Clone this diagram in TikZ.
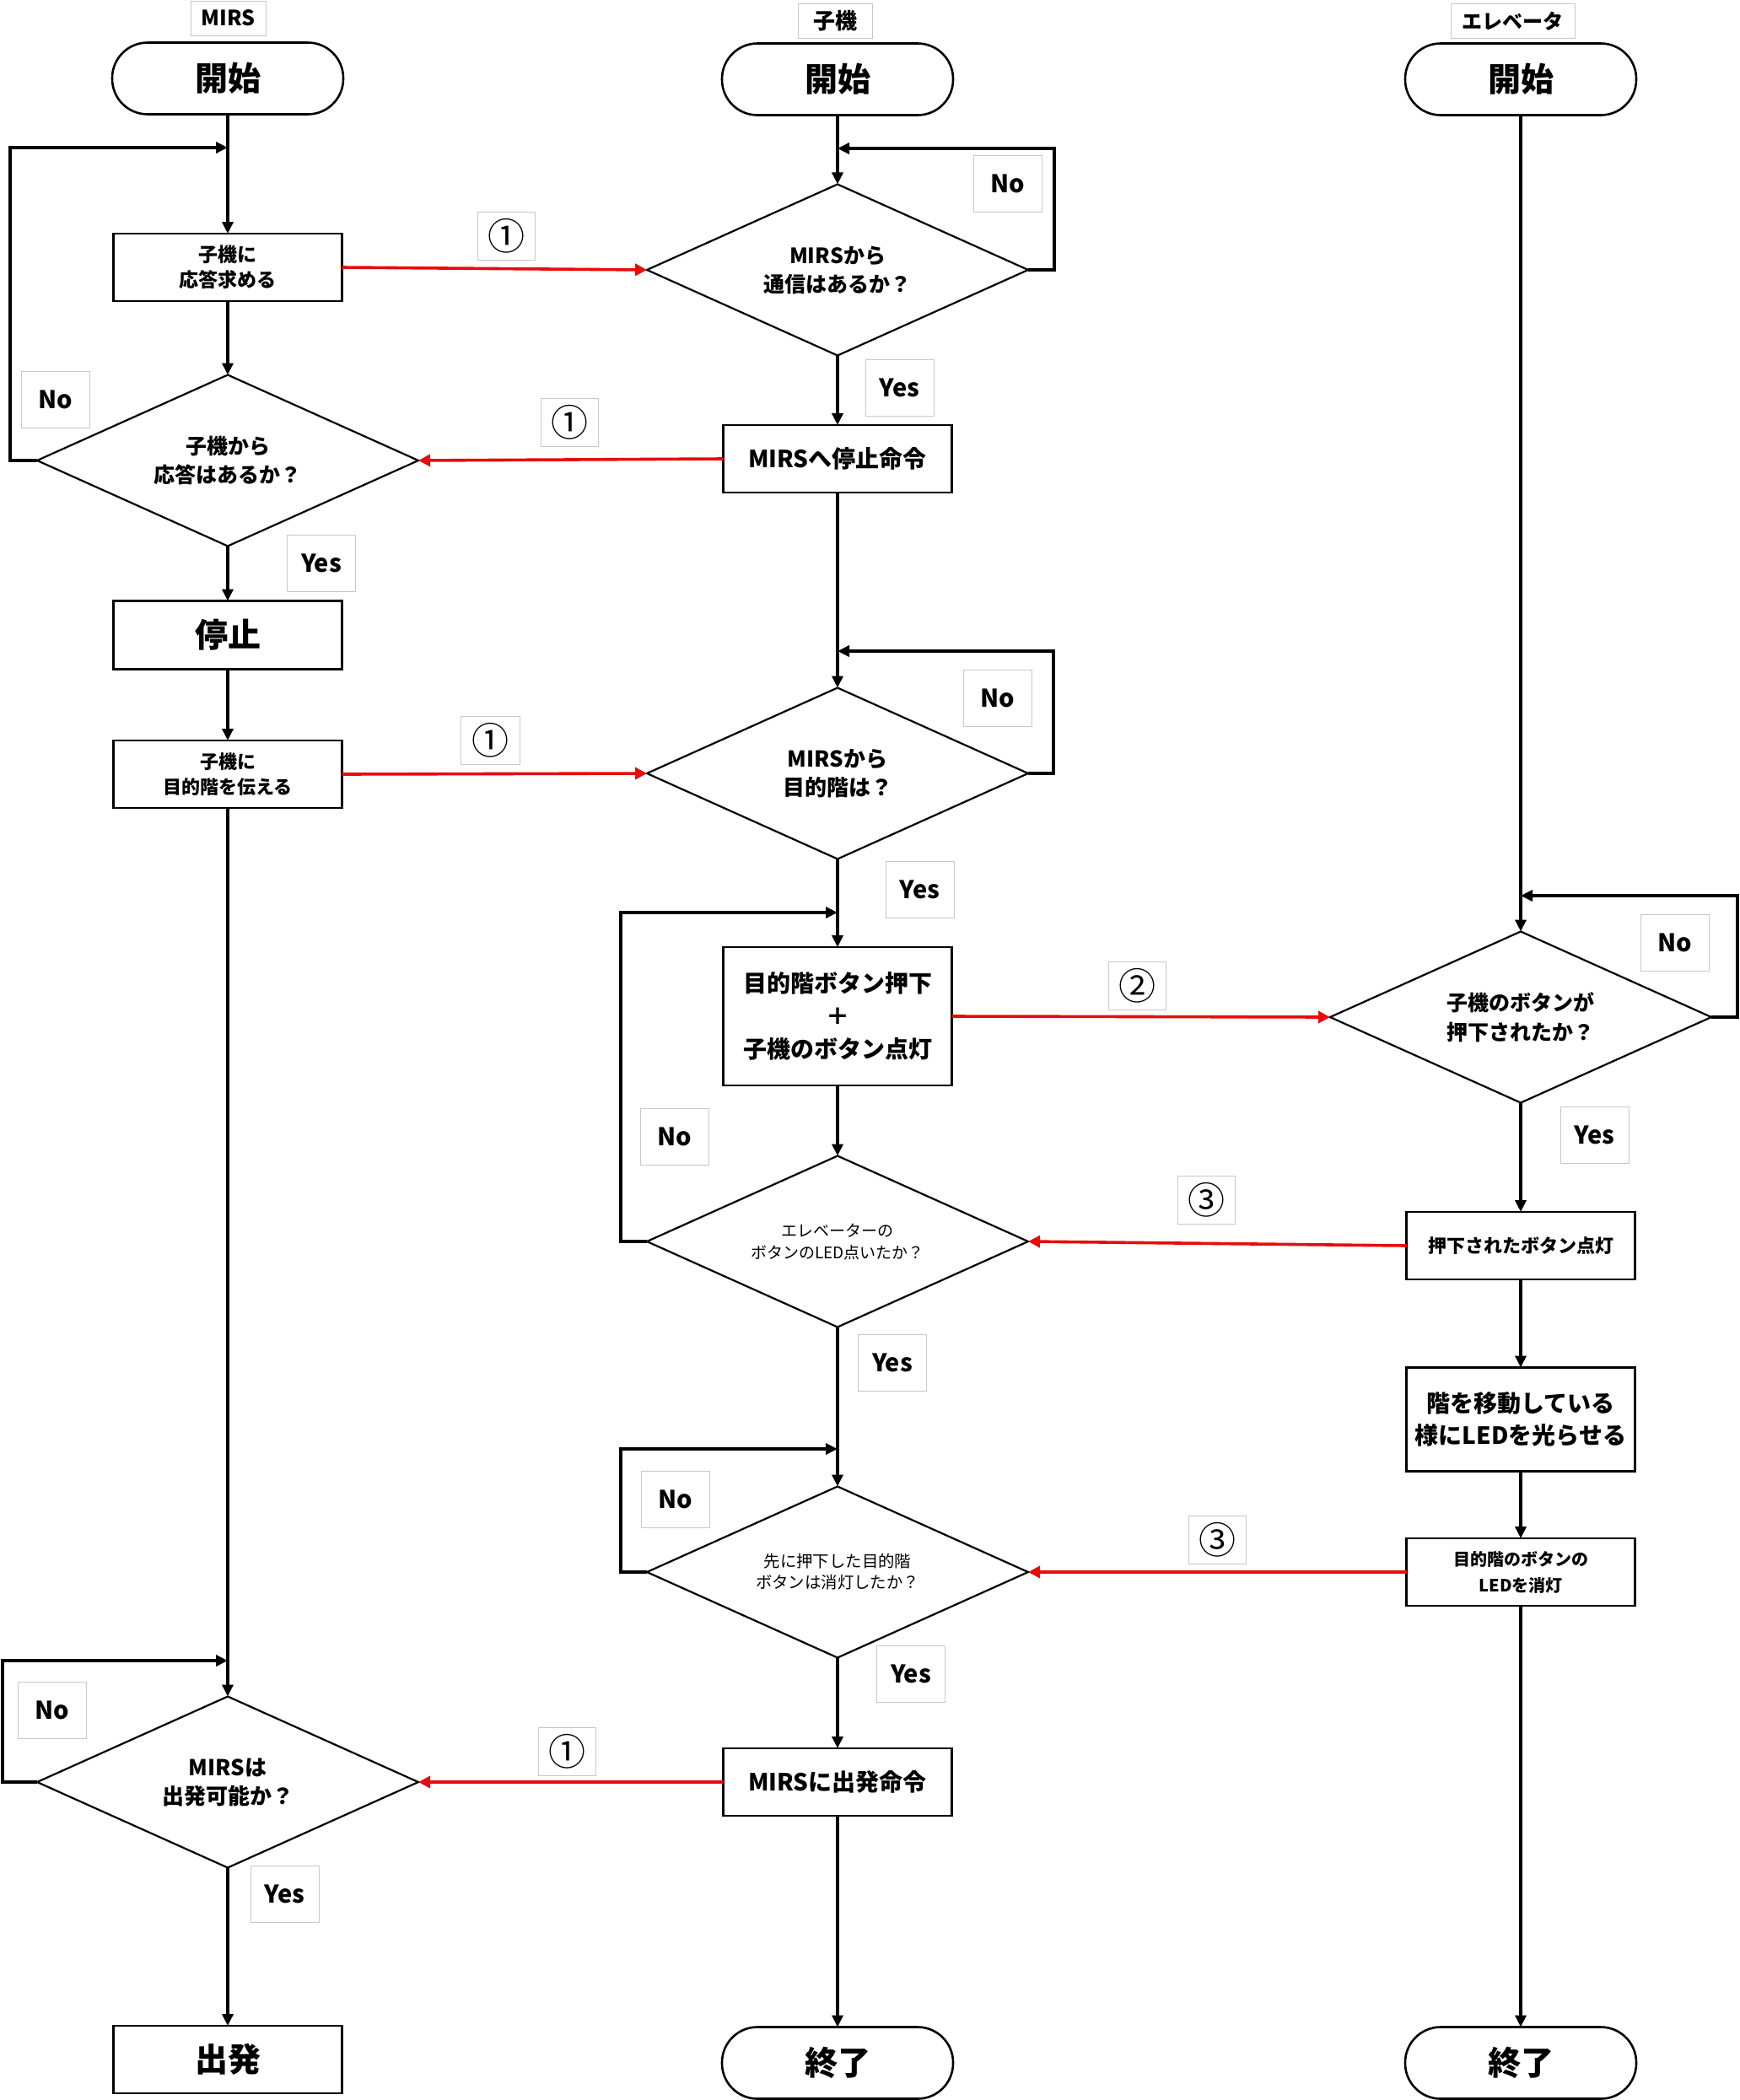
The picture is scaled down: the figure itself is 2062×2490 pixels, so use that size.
\documentclass[tikz,border=0pt]{standalone}
\usepackage{fontspec}
\setmainfont{Noto Sans CJK JP}
\usetikzlibrary{shapes.geometric,arrows.meta}
\definecolor{msgred}{RGB}{232,12,12}
\definecolor{tagline}{RGB}{200,200,200}
\begin{document}
\begin{tikzpicture}[x=0.5pt,y=-0.5pt,
  box/.style={draw, line width=1.4pt, rectangle, minimum width=135.5pt, minimum height=40pt, inner sep=0pt, outer sep=0pt, align=center, font=\bfseries},
  term/.style={draw, line width=1.3pt, rounded corners=21pt, minimum width=137pt, minimum height=42.5pt, inner sep=0pt, outer sep=0pt, font=\bfseries\fontsize{19.5}{23}\selectfont},
  dec/.style={draw, diamond, aspect=2.22, line width=1.1pt, minimum width=226pt, minimum height=101.5pt, inner sep=0pt, outer sep=0pt, align=center, font=\bfseries},
  tag/.style={draw=tagline, line width=0.5pt, minimum width=40.5pt, minimum height=33.5pt, inner sep=0pt, font=\bfseries\fontsize{14.5}{16}\selectfont},
  numtag/.style={draw=tagline, line width=0.5pt, minimum width=34pt, minimum height=28.5pt, inner sep=0pt, font=\fontsize{22}{24}\selectfont},
  coltag/.style={draw=tagline, line width=0.5pt, minimum height=20.5pt, inner sep=0pt, font=\bfseries},
  flow/.style={line width=2pt, -{Triangle[length=7pt,width=6.5pt]}},
  thinflow/.style={line width=1.7pt, -{Triangle[length=7pt,width=6.5pt]}},
  msg/.style={draw=msgred, line width=1.8pt, -{Triangle[length=7pt,width=7pt]}, color=msgred},
]
\useasboundingbox (0,0) rectangle (2062,2490);

% ---------- column labels ----------
\node[coltag, minimum width=44.5pt, font=\bfseries\fontsize{12.5}{14}\selectfont] (tM) at (270.5,21.5) {MIRS};
\node[coltag, minimum width=44pt, font=\bfseries\fontsize{13}{15}\selectfont] (tK) at (990,24.5) {子機};
\node[coltag, minimum width=73.5pt, font=\bfseries\fontsize{12}{14}\selectfont] (tE) at (1793.5,25) {エレベータ};

% ---------- MIRS column ----------
\node[term] (s1) at (270,93) {開始};
\coordinate (j1) at (270,175);
\node[box, font=\bfseries\fontsize{11.5}{15}\selectfont] (b1) at (270,317) {子機に\\応答求める};
\node[dec, font=\bfseries\fontsize{12.5}{17}\selectfont] (d1) at (270,546) {子機から\\応答はあるか？};
\node[tag] (no1) at (65.5,473.5) {No};
\node[tag] (yes1) at (381,668) {Yes};
\node[box, minimum height=40.5pt, font=\bfseries\fontsize{19.5}{23}\selectfont] (b2) at (270,753) {停止};
\node[box, font=\bfseries\fontsize{11}{15}\selectfont] (b3) at (270,918) {子機に\\目的階を伝える};
\coordinate (j7) at (270,1969);
\node[dec, font=\bfseries\fontsize{13}{17}\selectfont] (d2) at (270,2113) {MIRSは\\出発可能か？};
\node[tag] (no2) at (62,2027.5) {No};
\node[tag] (yes2) at (337.5,2245.5) {Yes};
\node[box, font=\bfseries\fontsize{19.5}{23}\selectfont] (b4) at (270,2442) {出発};

% ---------- 子機 column ----------
\node[term] (s2) at (993,94) {開始};
\coordinate (j2) at (993,176);
\node[dec, font=\bfseries\fontsize{12.5}{17}\selectfont] (d3) at (993,320) {MIRSから\\通信はあるか？};
\node[tag] (no3) at (1195,218) {No};
\node[tag] (yes3) at (1066.5,459.5) {Yes};
\node[box, font=\bfseries\fontsize{14}{17}\selectfont] (b5) at (993,544) {MIRSへ停止命令};
\coordinate (j3) at (993,772);
\node[dec, font=\bfseries\fontsize{13}{17}\selectfont] (d4) at (993,917) {MIRSから\\目的階は？};
\node[tag] (no4) at (1183,827.5) {No};
\node[tag] (yes4) at (1090.5,1054.5) {Yes};
\coordinate (j4) at (993,1082);
\node[box, minimum height=82pt, font=\bfseries\fontsize{14}{19.5}\selectfont] (b6) at (993,1205) {目的階ボタン押下\\＋\\子機のボタン点灯};
\node[tag] (no5) at (800,1347.5) {No};
\node[dec, font=\fontsize{9.5}{13}\selectfont] (d5) at (993,1472) {エレベーターの\\ボタンのLED点いたか？};
\node[tag] (yes5) at (1058,1616) {Yes};
\coordinate (j5) at (993,1718);
\node[tag] (no6) at (800.5,1778) {No};
\node[dec, font=\fontsize{9.7}{12.5}\selectfont] (d6) at (993,1864) {先に押下した目的階\\ボタンは消灯したか？};
\node[tag] (yes6) at (1080,1985) {Yes};
\node[box, font=\bfseries\fontsize{14}{17}\selectfont] (b7) at (993,2113) {MIRSに出発命令};
\node[term] (e2) at (993,2446) {終了};

% ---------- エレベータ column ----------
\node[term] (s3) at (1803,94) {開始};
\coordinate (j6) at (1803,1062);
\node[dec, font=\bfseries\fontsize{12.5}{17.5}\selectfont] (d7) at (1803,1206) {子機のボタンが\\押下されたか？};
\node[tag] (no7) at (1985.5,1117.5) {No};
\node[tag] (yes7) at (1890.5,1345.5) {Yes};
\node[box, font=\bfseries\fontsize{11}{14}\selectfont] (b8) at (1803,1477) {押下されたボタン点灯};
\node[box, minimum height=61.5pt, font=\bfseries\fontsize{14}{19}\selectfont] (b9) at (1803,1683) {階を移動している\\様にLEDを光らせる};
\node[box, font=\bfseries\fontsize{10}{15.5}\selectfont] (b10) at (1803,1864) {目的階のボタンの\\LEDを消灯};
\node[term] (e3) at (1803,2446) {終了};

% ---------- message number tags ----------
\node[numtag] (n1) at (600,279.5) {①};
\node[numtag] (n2) at (675,500.5) {①};
\node[numtag, minimum width=35pt] (n3) at (581,878) {①};
\node[numtag] (n4) at (1348,1168.5) {②};
\node[numtag] (n5) at (1430,1423) {③};
\node[numtag] (n6) at (1443,1826) {③};
\node[numtag] (n7) at (672.5,2077) {①};

% ---------- flows: MIRS ----------
\draw[flow] (s1) -- (b1);
\draw[flow] (b1) -- (d1);
\draw[flow] (d1.west) -- ++(-32,0) |- (j1);
\draw[flow] (d1) -- (b2);
\draw[flow] (b2) -- (b3);
\draw[thinflow] (b3) -- (d2);
\draw[flow] (d2.west) -- ++(-41,0) |- (j7);
\draw[thinflow] (d2) -- (b4);

% ---------- flows: 子機 ----------
\draw[flow] (s2) -- (d3);
\draw[flow] (d3.east) -- ++(31,0) |- (j2);
\draw[flow] (d3) -- (b5);
\draw[flow] (b5) -- (d4);
\draw[flow] (d4.east) -- ++(30,0) |- (j3);
\draw[flow] (d4) -- (b6);
\draw[flow] (b6) -- (d5);
\draw[flow] (d5.west) -- ++(-31,0) |- (j4);
\draw[flow] (d5) -- (d6);
\draw[flow] (d6.west) -- ++(-31,0) |- (j5);
\draw[thinflow] (d6) -- (b7);
\draw[thinflow] (b7) -- (e2);

% ---------- flows: エレベータ ----------
\draw[flow] (s3) -- (d7);
\draw[flow] (d7.east) -- ++(31,0) |- (j6);
\draw[flow] (d7) -- (b8);
\draw[flow] (b8) -- (b9);
\draw[flow] (b9) -- (b10);
\draw[thinflow] (b10) -- (e3);

% ---------- messages ----------
\draw[msg] (b1.east) -- (d3.west);
\draw[msg] (b5.west) -- (d1.east);
\draw[msg] (b3.east) -- (d4.west);
\draw[msg] (b6.east) -- (d7.west);
\draw[msg] (b8.west) -- (d5.east);
\draw[msg] (b10.west) -- (d6.east);
\draw[msg] (b7.west) -- (d2.east);
\end{tikzpicture}
\end{document}
